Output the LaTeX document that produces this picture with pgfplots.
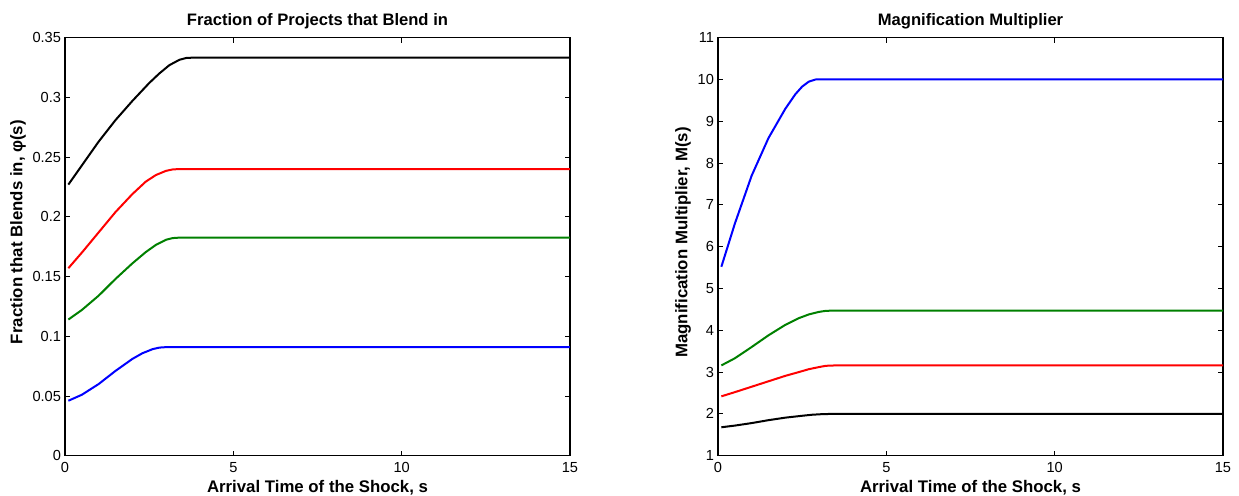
\documentclass[border=0pt]{standalone}
\usepackage{fontspec}
\setmainfont{Liberation Sans}
\usepackage{pgfplots}
\pgfplotsset{compat=1.18}
\definecolor{mblue}{rgb}{0,0,1}
\definecolor{mgreen}{rgb}{0,0.5,0}
\definecolor{mred}{rgb}{1,0,0}
\pgfplotsset{
  matlab/.style={
    scale only axis, width=252.5pt, height=209pt,
    xmin=0, xmax=15, xtick={0,5,10,15},
    tick align=inside, major tick length=2.5pt,
    axis line style={line width=0.6pt},
    tick style={line width=0.4pt, black},
    ticklabel style={font=\fontsize{7.3}{8.8}\selectfont},
    yticklabel style={xshift=1.5pt},
    label style={font=\bfseries\fontsize{8.4}{10}\selectfont},
    every axis title/.style={font=\bfseries\fontsize{8.3}{10}\selectfont,
      at={(axis description cs:0.5,1)}, anchor=base, yshift=5.85pt},
    xlabel={Arrival Time of the Shock, s},
    xlabel style={at={(axis description cs:0.5,0)}, anchor=base, yshift=-18.4pt},
    /pgf/number format/assume math mode=true,
    every axis plot/.append style={line width=1pt, line join=round},
  }
}
\begin{document}
\begin{tikzpicture}
\useasboundingbox (0,0) rectangle (619.5pt,248pt);
\begin{axis}[matlab,
    at={(32.5pt,20.15pt)}, anchor=south west,
    title={Fraction of Projects that Blend in},
    ylabel={Fraction that Blends in, φ(s)},
    ylabel style={at={(axis description cs:-0.0931,0.535)}, anchor=center},
    ymin=0, ymax=0.35,
    ytick={0,0.05,0.1,0.15,0.2,0.25,0.3,0.35},
    yticklabels={0,0.05,0.1,0.15,0.2,0.25,0.3,0.35},
]
\addplot[black] coordinates {
  (0.1,0.227) (0.5,0.243) (1,0.263) (1.5,0.281) (2,0.297) (2.5,0.312)
  (2.8,0.320) (3.1,0.327) (3.4,0.3315) (3.6,0.3330) (3.8,0.3333) (15,0.3333)};
\addplot[mred] coordinates {
  (0.1,0.157) (0.5,0.170) (1,0.187) (1.5,0.204) (2,0.219) (2.4,0.2295)
  (2.7,0.2350) (3.0,0.2385) (3.2,0.2397) (3.4,0.2400) (15,0.2400)};
\addplot[mgreen] coordinates {
  (0.1,0.114) (0.5,0.122) (1,0.134) (1.5,0.148) (2,0.161) (2.4,0.1705)
  (2.7,0.1765) (3.0,0.1808) (3.2,0.1822) (3.4,0.1826) (15,0.1826)};
\addplot[mblue] coordinates {
  (0.1,0.046) (0.5,0.051) (1,0.060) (1.5,0.071) (2,0.081) (2.3,0.0858)
  (2.6,0.0892) (2.8,0.0905) (3.0,0.0909) (15,0.0909)};
\end{axis}
\begin{axis}[matlab,
    at={(359pt,20.15pt)}, anchor=south west,
    title={Magnification Multiplier},
    ylabel={Magnification Multiplier, M(s)},
    ylabel style={at={(axis description cs:-0.0693,0.51)}, anchor=center},
    ymin=1, ymax=11, ytick={1,2,...,11},
]
\addplot[mblue] coordinates {
  (0.1,5.52) (0.5,6.55) (1,7.7) (1.5,8.6) (2,9.3) (2.3,9.65)
  (2.5,9.83) (2.7,9.95) (2.9,10.0) (15,10.0)};
\addplot[mgreen] coordinates {
  (0.1,3.16) (0.5,3.33) (1,3.6) (1.5,3.88) (2,4.13) (2.4,4.29)
  (2.7,4.38) (3.0,4.44) (3.2,4.465) (3.4,4.47) (15,4.47)};
\addplot[mred] coordinates {
  (0.1,2.42) (0.5,2.52) (1,2.65) (1.5,2.78) (2,2.91) (2.4,3.0)
  (2.7,3.07) (3.0,3.12) (3.2,3.15) (3.5,3.16) (15,3.16)};
\addplot[black] coordinates {
  (0.1,1.68) (0.5,1.72) (1,1.78) (1.5,1.85) (2,1.91) (2.5,1.955)
  (2.8,1.98) (3.1,1.994) (3.4,2.0) (15,2.0)};
\end{axis}
\end{tikzpicture}
\end{document}
